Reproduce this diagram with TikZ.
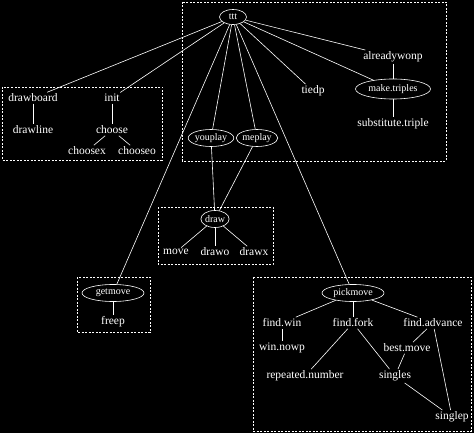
\documentclass[tikz,border=0pt]{standalone}
\usepackage{fontspec}
\setmainfont{Liberation Serif}
\usetikzlibrary{shapes.geometric}
\tikzset{
  lbl/.style={text=white, font=\fontsize{11.5}{12}\selectfont, inner sep=1.5pt},
  fn/.style={draw=white, ellipse, text=white, font=\fontsize{10}{11}\selectfont, inner sep=0pt, minimum height=17pt, line width=0.6pt},
  grp/.style={draw=white, dashed, line width=0.6pt, dash pattern=on 2pt off 1.5pt},
  link/.style={draw=white, line width=0.6pt},
}
\begin{document}
\begin{tikzpicture}[x=1pt, y=-1pt]
  \fill[black] (0,0) rectangle (474,433);
  \useasboundingbox (0,0) rectangle (474,433);
  % group frames
  \draw[grp] (182,2) rectangle (446,161);
  \draw[grp] (2,87) rectangle (162,160);
  \draw[grp] (158,207) rectangle (273,264);
  \draw[grp] (77,277) rectangle (150,332);
  \draw[grp] (253,277) rectangle (471,431);
  % top level
  \node[fn, minimum width=27pt, minimum height=15pt] (ttt) at (233,17) {ttt};
  \node[lbl] (alreadywonp) at (393,57) {alreadywonp};
  \node[lbl] (tiedp) at (313,91) {tiedp};
  \node[fn, minimum width=75pt, minimum height=20pt] (maketriples) at (393,89) {make.triples};
  \node[lbl] (substtriple) at (393,124) {substitute.triple};
  \node[fn, minimum width=40pt] (youplay) at (211,138) {youplay};
  \node[fn, minimum width=40pt] (meplay) at (257,138) {meplay};
  % board group
  \node[lbl] (drawboard) at (33,98) {drawboard};
  \node[lbl] (drawline) at (33,130) {drawline};
  \node[lbl] (init) at (112,98) {init};
  \node[lbl] (choose) at (112,130) {choose};
  \node[lbl] (choosex) at (87,151) {choosex};
  \node[lbl] (chooseo) at (137,151) {chooseo};
  % draw group
  \node[fn, minimum width=28pt] (draw) at (215,219) {draw};
  \node[lbl] (move) at (176,252) {move};
  \node[lbl] (drawo) at (215,252) {drawo};
  \node[lbl] (drawx) at (254,252) {drawx};
  % getmove group
  \node[fn, minimum width=62pt] (getmove) at (113,293) {getmove};
  \node[lbl] (freep) at (113,322) {freep};
  % pickmove group
  \node[fn, minimum width=62pt] (pickmove) at (353,293) {pickmove};
  \node[lbl] (findwin) at (282,323) {find.win};
  \node[lbl] (findfork) at (353,323) {find.fork};
  \node[lbl] (findadvance) at (433,323) {find.advance};
  \node[lbl] (winnowp) at (282,348) {win.nowp};
  \node[lbl] (bestmove) at (407,348) {best.move};
  \node[lbl] (repeated) at (305,376) {repeated.number};
  \node[lbl] (singles) at (395,376) {singles};
  \node[lbl] (singlep) at (452,417) {singlep};
  % connectors
  \foreach \t in {drawboard, init, getmove, youplay, meplay, pickmove, tiedp, maketriples, alreadywonp}
    \draw[link] (ttt) -- (\t);
  \draw[link] (alreadywonp) -- (maketriples);
  \draw[link] (maketriples) -- (substtriple);
  \draw[link] (drawboard) -- (drawline);
  \draw[link] (init) -- (choose);
  \draw[link] (choose) -- (choosex);
  \draw[link] (choose) -- (chooseo);
  \draw[link] (youplay) -- (draw);
  \draw[link] (meplay) -- (draw);
  \foreach \t in {move, drawo, drawx}
    \draw[link] (draw) -- (\t);
  \draw[link] (getmove) -- (freep);
  \foreach \t in {findwin, findfork, findadvance}
    \draw[link] (pickmove) -- (\t);
  \draw[link] (findwin) -- (winnowp);
  \draw[link] (findfork) -- (repeated);
  \draw[link] (findfork) -- (singles);
  \draw[link] (findadvance) -- (bestmove);
  \draw[link] (bestmove) -- (singles);
  \draw[link] (findadvance) -- (singlep);
  \draw[link] (singles) -- (singlep);
\end{tikzpicture}
\end{document}
